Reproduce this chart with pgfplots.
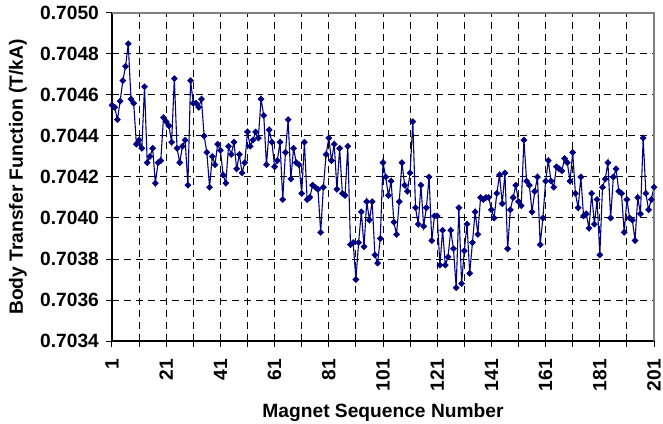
\documentclass[border=0pt]{standalone}
\usepackage{pgfplots}
\pgfplotsset{compat=1.18}
\usepackage{fontspec}
\setmainfont{Liberation Sans}
\definecolor{navy}{HTML}{000080}
\definecolor{bordergray}{HTML}{808080}
\begin{document}
\begin{tikzpicture}[x=1pt,y=1pt]
\path[use as bounding box] (-56,-41) rectangle (275.5,170.5);
\begin{axis}[
  at={(0,0)}, anchor=south west,
  scale only axis, width=271pt, height=164pt,
  xmin=1, xmax=201, ymin=0.7034, ymax=0.7050,
  clip=false,
  axis lines*=left,
  axis line style={black, line width=0.6pt},
  xtick={1,21,...,201},
  minor xtick={11,31,...,191},
  ytick={0.7034,0.7036,0.7038,0.7040,0.7042,0.7044,0.7046,0.7048,0.7050},
  grid=both,
  major grid style={black, dash pattern=on 3.5pt off 2.5pt, line width=0.5pt},
  minor grid style={black, dash pattern=on 3.5pt off 2.5pt, line width=0.5pt},
  tick align=center,
  major tick length=6pt, minor tick length=6pt,
  every tick/.style={black, line width=0.5pt},
  scaled y ticks=false,
  /pgf/number format/assume math mode=true,
  yticklabel style={/pgf/number format/.cd, fixed, precision=4, zerofill, assume math mode=true},
  tick label style={font=\fontsize{9.6}{11}\selectfont\bfseries},
  xticklabel style={rotate=90, anchor=east},
  xticklabel shift=2.5pt,
  label style={font=\fontsize{9.6}{11}\selectfont\bfseries},
  xlabel={Magnet Sequence Number},
  xlabel style={at={([yshift=-38.2pt]axis description cs:0.5,0)}, anchor=base},
  ylabel={Body Transfer Function (T/kA)},
  ylabel style={at={([xshift=-47pt]axis description cs:0,0.5)}, anchor=center, rotate=0},
]
\addplot[navy, line width=0.55pt, mark=diamond*, mark size=1.5pt,
  mark options={solid, fill=navy, draw=navy, xscale=1.33, line width=0.3pt}]
  table {
x y
1 0.70455
2 0.70454
3 0.70448
4 0.70457
5 0.70467
6 0.70474
7 0.70485
8 0.70458
9 0.70456
10 0.70436
11 0.70438
12 0.70434
13 0.70464
14 0.70427
15 0.70430
16 0.70434
17 0.70417
18 0.70427
19 0.70428
20 0.70449
21 0.70447
22 0.70445
23 0.70437
24 0.70468
25 0.70434
26 0.70427
27 0.70435
28 0.70438
29 0.70416
30 0.70467
31 0.70456
32 0.70456
33 0.70454
34 0.70458
35 0.70440
36 0.70432
37 0.70415
38 0.70430
39 0.70426
40 0.70436
41 0.70433
42 0.70421
43 0.70417
44 0.70435
45 0.70431
46 0.70437
47 0.70424
48 0.70431
49 0.70422
50 0.70427
51 0.70442
52 0.70435
53 0.70438
54 0.70442
55 0.70439
56 0.70458
57 0.70450
58 0.70426
59 0.70443
60 0.70437
61 0.70425
62 0.70428
63 0.70437
64 0.70409
65 0.70432
66 0.70448
67 0.70419
68 0.70434
69 0.70427
70 0.70426
71 0.70412
72 0.70437
73 0.70409
74 0.70410
75 0.70416
76 0.70415
77 0.70414
78 0.70393
79 0.70415
80 0.70431
81 0.70439
82 0.70428
83 0.70436
84 0.70414
85 0.70434
86 0.70412
87 0.70411
88 0.70435
89 0.70387
90 0.70388
91 0.70370
92 0.70388
93 0.70403
94 0.70386
95 0.70408
96 0.70399
97 0.70408
98 0.70382
99 0.70378
100 0.70390
101 0.70427
102 0.70420
103 0.70411
104 0.70418
105 0.70398
106 0.70392
107 0.70408
108 0.70427
109 0.70416
110 0.70413
111 0.70422
112 0.70447
113 0.70405
114 0.70397
115 0.70416
116 0.70396
117 0.70405
118 0.70420
119 0.70389
120 0.70401
121 0.70401
122 0.70377
123 0.70394
124 0.70377
125 0.70381
126 0.70394
127 0.70385
128 0.70366
129 0.70405
130 0.70368
131 0.70384
132 0.70397
133 0.70373
134 0.70388
135 0.70403
136 0.70392
137 0.70410
138 0.70409
139 0.70410
140 0.70410
141 0.70404
142 0.70400
143 0.70412
144 0.70421
145 0.70407
146 0.70422
147 0.70385
148 0.70404
149 0.70410
150 0.70416
151 0.70408
152 0.70406
153 0.70438
154 0.70418
155 0.70416
156 0.70403
157 0.70413
158 0.70420
159 0.70387
160 0.70400
161 0.70418
162 0.70428
163 0.70418
164 0.70415
165 0.70425
166 0.70424
167 0.70423
168 0.70429
169 0.70427
170 0.70418
171 0.70432
172 0.70412
173 0.70405
174 0.70420
175 0.70401
176 0.70402
177 0.70395
178 0.70412
179 0.70397
180 0.70409
181 0.70382
182 0.70415
183 0.70419
184 0.70427
185 0.70400
186 0.70420
187 0.70424
188 0.70413
189 0.70412
190 0.70393
191 0.70409
192 0.70400
193 0.70399
194 0.70389
195 0.70410
196 0.70402
197 0.70439
198 0.70412
199 0.70404
200 0.70409
201 0.70415
};
\draw[bordergray, line width=0.6pt] (rel axis cs:0,1) -- (rel axis cs:1,1) -- (rel axis cs:1,0);
\end{axis}
\end{tikzpicture}
\end{document}
